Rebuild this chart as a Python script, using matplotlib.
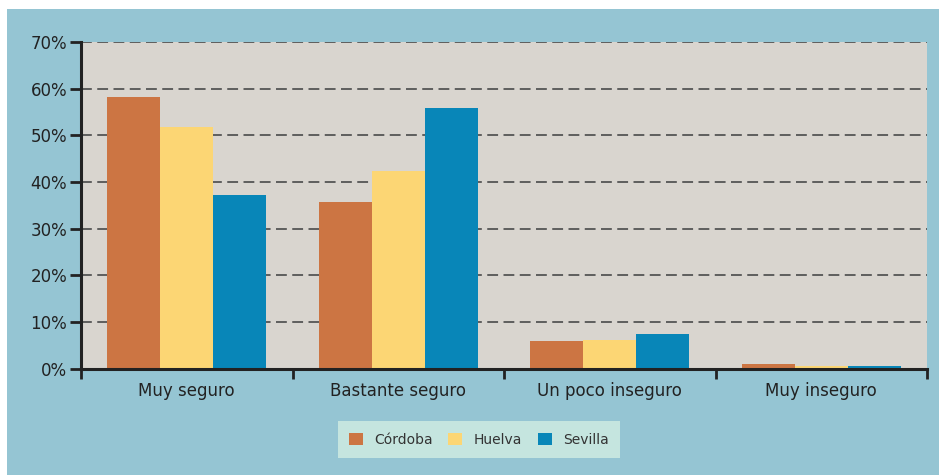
import numpy as np
import matplotlib.pyplot as plt
import matplotlib.patches as mpatches

categorias = ['Muy seguro', 'Bastante seguro', 'Un poco inseguro', 'Muy inseguro']
series = ['Córdoba', 'Huelva', 'Sevilla']
cordoba = [58.2, 35.7, 5.9, 1.0]
huelva = [51.8, 42.3, 6.1, 0.6]
sevilla = [37.1, 55.8, 7.4, 0.6]
colores = ['#cc7543', '#fcd674', '#0886b8']

fig = plt.figure(figsize=(9.39, 4.75), dpi=100)
fig.patches.append(mpatches.Rectangle((7/939, 0), 1 - 7/939, 1 - 9/475,
                                      transform=fig.transFigure,
                                      facecolor='#95c5d3', edgecolor='none', zorder=-10))
ax = fig.add_axes([81/939, 1 - 368.5/475, 846/939, (368.5 - 42)/475])
ax.set_facecolor('#d9d5cf')

x = np.arange(len(categorias))
w = 0.25
for i, (vals, name) in enumerate(zip([cordoba, huelva, sevilla], series)):
    ax.bar(x + (i - 1) * w, vals, w, color=colores[i], label=name, zorder=3)

ax.set_xlim(-0.5, 3.5)
ax.set_ylim(0, 70)
ax.set_yticks(np.arange(0, 71, 10))
ax.set_yticklabels([f'{v}%' for v in range(0, 71, 10)])
for v in range(10, 71, 10):
    ax.axhline(v, color='#555555', lw=1.3, ls=(0, (6, 3)), zorder=2)

ax.set_xticks(x)
ax.set_xticklabels(categorias)
ax.set_xticks(np.arange(-0.5, 3.6, 1), minor=True)
ax.tick_params(axis='x', which='major', length=0, pad=10, labelsize=12, colors='#222222')
ax.tick_params(axis='x', which='minor', length=7, width=2, direction='out', color='#222222')
ax.tick_params(axis='y', length=8, width=2, direction='out', color='#222222',
               labelsize=12, labelcolor='#222222', pad=2)

for s in ['top', 'right']:
    ax.spines[s].set_visible(False)
for s in ['left', 'bottom']:
    ax.spines[s].set_linewidth(2.2)
    ax.spines[s].set_color('#222222')
    ax.spines[s].set_zorder(5)

leg = fig.legend(loc='center', bbox_to_anchor=(479/939, 1 - 439.5/475), ncol=3,
                 frameon=True, fancybox=False, fontsize=10, handlelength=1, handleheight=1,
                 handletextpad=0.85, columnspacing=1.1, borderpad=0.8)
leg.get_frame().set_facecolor('#c5e5df')
leg.get_frame().set_edgecolor('none')
leg.get_frame().set_alpha(1)
for t in leg.get_texts():
    t.set_color('#333333')

fig.savefig('out.png', dpi=100)
